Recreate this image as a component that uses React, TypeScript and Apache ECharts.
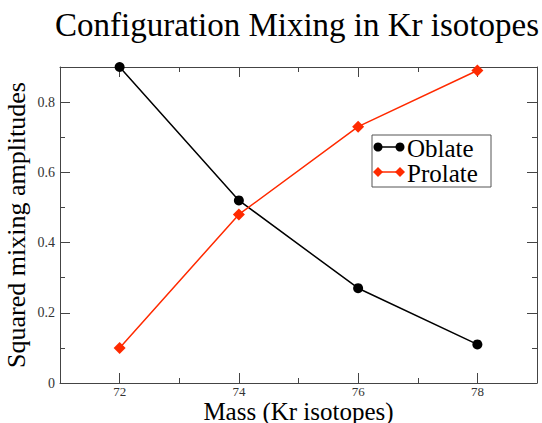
import React, { useEffect, useRef } from "react";
import * as echarts from "echarts";

const masses = [72, 74, 76, 78];
const oblate = [0.9, 0.52, 0.27, 0.11];
const prolate = [0.1, 0.48, 0.73, 0.89];
const xMajor = [72, 74, 76, 78];
const xMinor = [73, 75, 77];
const yMajor = [0, 0.2, 0.4, 0.6, 0.8];
const yMinor = [0.1, 0.3, 0.5, 0.7];

const SERIF = "'Liberation Serif', 'DejaVu Serif', serif";
const AXIS = "#444";
const RED = "#ff2a00";

export default function App() {
  const ref = useRef<HTMLDivElement>(null);
  useEffect(() => {
    if (!ref.current) return;
    const chart = echarts.init(ref.current, undefined, { renderer: "svg" });
    const baseX = (pos: string, ticks: number[], len: number, labels: boolean, line: boolean, extra: any = {}) => ({
      type: "value",
      position: pos,
      min: 71,
      max: 79,
      axisLine: { show: line, onZero: false, lineStyle: { color: AXIS, width: 1 } },
      axisTick: { show: true, inside: true, length: len, customValues: ticks, lineStyle: { color: AXIS } },
      axisLabel: labels
        ? { show: true, customValues: ticks, fontFamily: SERIF, fontSize: 13, lineHeight: 13, color: "#333", margin: 2 }
        : { show: false },
      splitLine: { show: false },
      ...extra,
    });
    const baseY = (pos: string, ticks: number[], len: number, labels: boolean, line: boolean, extra: any = {}) => ({
      type: "value",
      position: pos,
      min: 0,
      max: 0.9,
      axisLine: { show: line, onZero: false, lineStyle: { color: AXIS, width: 1 } },
      axisTick: { show: true, inside: true, length: len, customValues: ticks, lineStyle: { color: AXIS } },
      axisLabel: labels
        ? {
            show: true,
            customValues: ticks,
            fontFamily: SERIF,
            fontSize: 14,
            color: "#333",
            margin: 5,
            formatter: (v: number) => (v === 0 ? "0" : String(Math.round(v * 10) / 10)),
          }
        : { show: false },
      splitLine: { show: false },
      ...extra,
    });
    chart.setOption({
      animation: false,
      backgroundColor: "#ffffff",
      title: {
        text: "Configuration Mixing in Kr isotopes",
        left: 292,
        textAlign: "center",
        top: 3,
        textStyle: { fontFamily: SERIF, fontSize: 33, fontWeight: "normal", color: "#000" },
      },
      grid: { left: 60, right: 5, top: 67, bottom: 40, containLabel: false, outerBoundsMode: "none" },
      xAxis: [
        baseX("bottom", xMajor, 10, true, true, {
          name: "Mass (Kr isotopes)",
          nameLocation: "middle",
          nameGap: 16,
          nameMoveOverlap: false,
          nameTextStyle: { fontFamily: SERIF, fontSize: 25, lineHeight: 24, color: "#000", verticalAlign: "top" },
        }),
        baseX("bottom", xMinor, 5, false, false),
        baseX("top", xMajor, 10, false, true),
        baseX("top", xMinor, 5, false, false),
      ],
      yAxis: [
        baseY("left", yMajor, 10, true, true, {
          name: "Squared mixing amplitudes",
          nameLocation: "middle",
          nameGap: 31,
          nameMoveOverlap: false,
          nameTextStyle: { fontFamily: SERIF, fontSize: 26, color: "#000" },
        }),
        baseY("left", yMinor, 5, false, false),
        baseY("right", yMajor, 10, false, true),
        baseY("right", yMinor, 5, false, false),
      ],
      series: [
        {
          name: "Oblate",
          type: "line",
          xAxisIndex: 0,
          yAxisIndex: 0,
          data: masses.map((m, i) => [m, oblate[i]]),
          symbol: "circle",
          symbolSize: 10,
          lineStyle: { color: "#000", width: 1.5 },
          itemStyle: { color: "#000" },
        },
        {
          name: "Prolate",
          type: "line",
          xAxisIndex: 0,
          yAxisIndex: 0,
          data: masses.map((m, i) => [m, prolate[i]]),
          symbol: "diamond",
          symbolSize: 12,
          lineStyle: { color: RED, width: 1.5 },
          itemStyle: { color: RED },
        },
      ],
      graphic: [
        {
          type: "rect",
          shape: { x: 372, y: 135, width: 119, height: 52 },
          style: { fill: "#fff", stroke: "#555", lineWidth: 1 },
          z: 10,
        },
        { type: "line", shape: { x1: 378, y1: 147, x2: 400, y2: 147 }, style: { stroke: "#000", lineWidth: 1.5 }, z: 11 },
        { type: "circle", shape: { cx: 378, cy: 147, r: 4.5 }, style: { fill: "#000" }, z: 11 },
        { type: "circle", shape: { cx: 400, cy: 147, r: 4.5 }, style: { fill: "#000" }, z: 11 },
        {
          type: "text",
          x: 407,
          y: 148,
          style: { text: "Oblate", fontFamily: SERIF, fontSize: 25, lineHeight: 24, fill: "#000", verticalAlign: "middle" },
          z: 11,
        },
        { type: "line", shape: { x1: 378, y1: 172, x2: 400, y2: 172 }, style: { stroke: RED, lineWidth: 1.5 }, z: 11 },
        { type: "polygon", shape: { points: [[378, 167], [383, 172], [378, 177], [373, 172]] }, style: { fill: RED }, z: 11 },
        { type: "polygon", shape: { points: [[400, 167], [405, 172], [400, 177], [395, 172]] }, style: { fill: RED }, z: 11 },
        {
          type: "text",
          x: 407,
          y: 173,
          style: { text: "Prolate", fontFamily: SERIF, fontSize: 25, lineHeight: 24, fill: "#000", verticalAlign: "middle" },
          z: 11,
        },
      ],
    });
    return () => chart.dispose();
  }, []);
  return <div ref={ref} style={{ width: 542, height: 423, position: "fixed", left: 0, top: 0 }} />;
}
